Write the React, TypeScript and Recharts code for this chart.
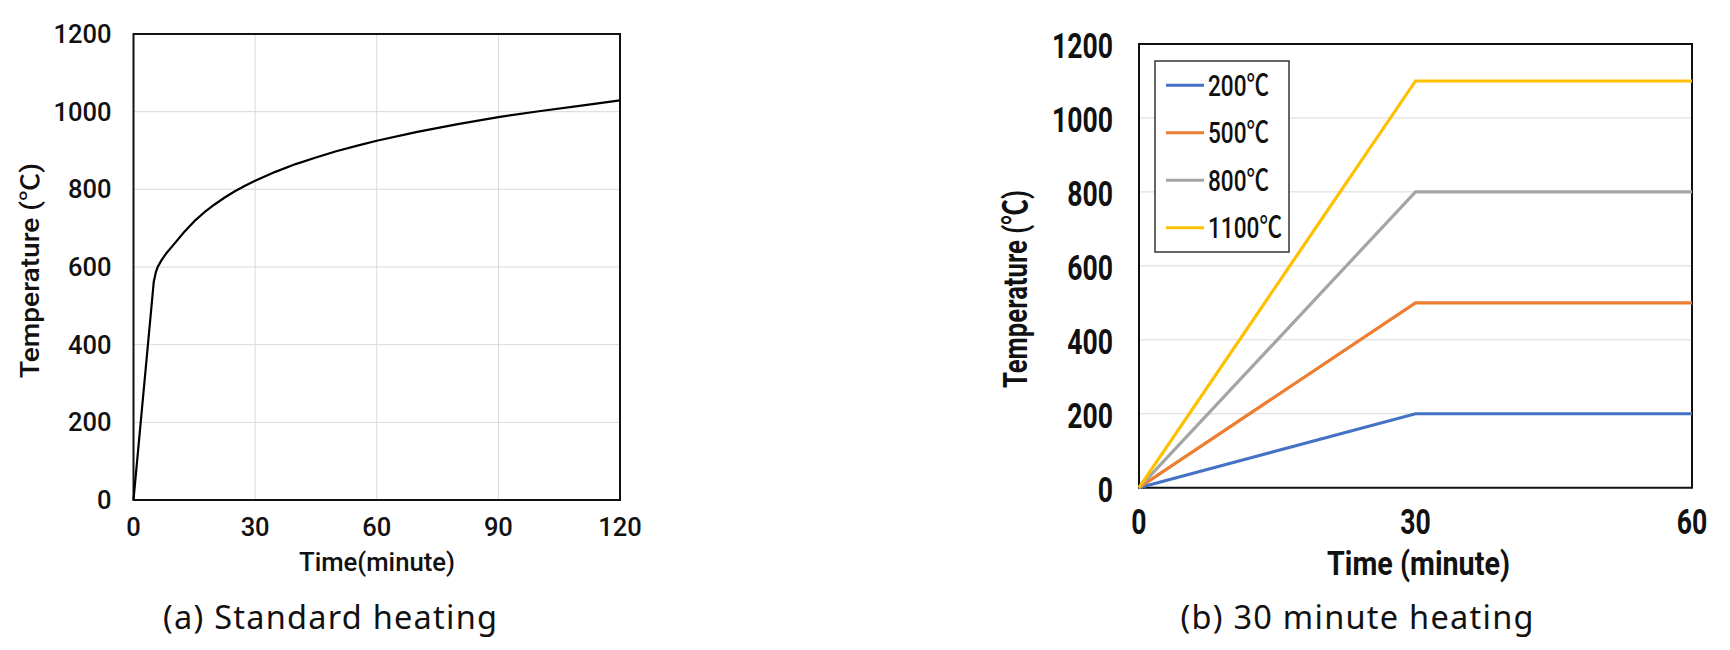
import React from 'react';
import { LineChart, Line, XAxis, YAxis, CartesianGrid, ReferenceArea, Legend } from 'recharts';

// ---- (a) Standard heating ----
const stdTime = [0, 5, 5.5, 6, 7, 8, 10, 12.5, 15, 17.5, 20, 22.5, 25, 27.5, 30, 35, 40, 45, 50, 55, 60, 70, 80, 90, 100, 110, 120];
const stdTemp = [0, 562, 586, 601, 619, 634, 659, 690, 718, 741, 761, 779, 795, 809, 822, 845, 865, 882, 898, 912, 925, 948, 968, 986, 1001, 1015, 1029];
const stdXTicks = [0, 30, 60, 90, 120];
const tempTicks = [0, 200, 400, 600, 800, 1000, 1200];

// ---- (b) 30 minute heating ----
const rampTime = [0, 30, 60];
const ramp200 = [0, 200, 200];
const ramp500 = [0, 500, 500];
const ramp800 = [0, 800, 800];
const ramp1100 = [0, 1100, 1100];
const rampKeys = ['s200', 's500', 's800', 's1100'];
const rampNames = ['200℃', '500℃', '800℃', '1100℃'];
const rampColors = ['#4472C4', '#ED7D31', '#A5A5A5', '#FFC000'];
const rampXTicks = [0, 30, 60];

const stdData = stdTime.map((t, i) => ({ t, temp: stdTemp[i] }));
const rampValues = [ramp200, ramp500, ramp800, ramp1100];
const rampData = rampTime.map((t, i) => {
  const row: any = { t };
  rampKeys.forEach((k, j) => (row[k] = rampValues[j][i]));
  return row;
});

const FONT = "Roboto, 'Noto Sans CJK KR', 'DejaVu Sans', sans-serif";
const CAP_FONT = "'Noto Sans', 'Open Sans', sans-serif";

const LeftYTick = (props: any) => {
  const { x, y, payload } = props;
  return (
    <text x={x - 22} y={y + 9} textAnchor="end" fontFamily={FONT} fontSize={25.5} fontWeight={500} fill="#111">
      {payload.value}
    </text>
  );
};
const LeftXTick = (props: any) => {
  const { x, y, payload } = props;
  return (
    <text x={x} y={y + 36} textAnchor="middle" fontFamily={FONT} fontSize={25.5} fontWeight={500} fill="#111">
      {payload.value}
    </text>
  );
};
const RightYTick = (props: any) => {
  const { x, y, payload } = props;
  return (
    <text transform={`translate(${x - 26},${y + 14}) scale(0.76,1)`} textAnchor="end" fontFamily={FONT} fontSize={35} fontWeight={700} fill="#111">
      {payload.value}
    </text>
  );
};
const RightXTick = (props: any) => {
  const { x, y, payload } = props;
  return (
    <text transform={`translate(${x},${y + 46.5}) scale(0.76,1)`} textAnchor="middle" fontFamily={FONT} fontSize={35} fontWeight={700} fill="#111">
      {payload.value}
    </text>
  );
};

const RampLegend = () => {
  return (
    <svg width={136} height={194} style={{ display: 'block' }}>
      <rect x={1} y={1} width={134} height={191} fill="#fff" stroke="#333" strokeWidth={1.5} />
      {rampNames.map((name, i) => {
        const cy = 25.3 + i * 47.5;
        return (
          <g key={name}>
            <line x1={12} x2={50} y1={cy} y2={cy} stroke={rampColors[i]} strokeWidth={3} />
            <text transform={`translate(54,${cy + 10.3}) scale(0.78,1)`} fontFamily={FONT} fontSize={29} fontWeight={500} fill="#111">
              {name}
            </text>
          </g>
        );
      })}
    </svg>
  );
};

export default function App() {
  return (
    <div style={{ position: 'absolute', left: 0, top: 0, width: 1730, height: 650, background: '#fff', overflow: 'hidden' }}>
      <div style={{ position: 'absolute', left: 0, top: 0 }}>
        <LineChart width={660} height={650} data={stdData} margin={{ top: 34, right: 40, bottom: 120, left: 33.5 }}>
          <CartesianGrid stroke="#d9d9d9" strokeWidth={1} />
          <XAxis dataKey="t" type="number" domain={[0, 120]} ticks={stdXTicks} interval={0} height={30}
            axisLine={false} tickLine={false} tickSize={0} tickMargin={0} tick={LeftXTick} />
          <YAxis type="number" domain={[0, 1200]} ticks={tempTicks} interval={0} width={100}
            axisLine={false} tickLine={false} tickSize={0} tickMargin={0} tick={LeftYTick} />
          <ReferenceArea x1={0} x2={120} y1={0} y2={1200} fill="none" fillOpacity={0} stroke="#111" strokeWidth={2} />
          <Line type="linear" dataKey="temp" stroke="#000" strokeWidth={2.2} strokeLinejoin="round" dot={false} isAnimationActive={false} />
        </LineChart>
      </div>
      <div style={{ position: 'absolute', left: 980, top: 0 }}>
        <LineChart width={750} height={650} data={rampData} margin={{ top: 44, right: 38, bottom: 132.3, left: 59 }}>
          <CartesianGrid stroke="#d9d9d9" strokeWidth={1} vertical={false} />
          <XAxis dataKey="t" type="number" domain={[0, 60]} ticks={rampXTicks} interval={0} height={30}
            axisLine={false} tickLine={false} tickSize={0} tickMargin={0} tick={RightXTick} />
          <YAxis type="number" domain={[0, 1200]} ticks={tempTicks} interval={0} width={100}
            axisLine={false} tickLine={false} tickSize={0} tickMargin={0} tick={RightYTick} />
          <ReferenceArea x1={0} x2={60} y1={0} y2={1200} fill="none" fillOpacity={0} stroke="#111" strokeWidth={2} />
          {rampKeys.map((k, i) => (
            <Line key={k} type="linear" dataKey={k} name={rampNames[i]} stroke={rampColors[i]} strokeWidth={3.2}
              dot={false} isAnimationActive={false} />
          ))}
          <Legend layout="horizontal" verticalAlign="middle" align="center" content={RampLegend}
            wrapperStyle={{ left: 174, top: 60, width: 136, height: 194 }} />
        </LineChart>
      </div>
      <svg width={1730} height={650} style={{ position: 'absolute', left: 0, top: 0, pointerEvents: 'none' }}>
        {/* (a) titles */}
        <text x={377} y={571} textAnchor="middle" fontFamily={FONT} fontSize={25} fontWeight={500} fill="#111"
          textLength={156} lengthAdjust="spacingAndGlyphs">Time(minute)</text>
        <text transform="translate(38.5,270.5) rotate(-90)" textAnchor="middle" fontFamily={FONT} fontSize={25} fontWeight={500}
          fill="#111" textLength={215} lengthAdjust="spacingAndGlyphs">Temperature (℃)</text>
        <text x={330} y={629} textAnchor="middle" fontFamily={CAP_FONT} fontSize={32.5} fill="#111"
          textLength={334} lengthAdjust="spacing">(a) Standard heating</text>
        {/* (b) titles */}
        <text x={1418.5} y={575} textAnchor="middle" fontFamily={FONT} fontSize={33} fontWeight={700} fill="#111"
          textLength={183} lengthAdjust="spacingAndGlyphs">Time (minute)</text>
        <text transform="translate(1027,289) rotate(-90)" textAnchor="middle" fontFamily={FONT} fontSize={33} fontWeight={700}
          fill="#111" textLength={198} lengthAdjust="spacingAndGlyphs">Temperature (℃)</text>
        <text x={1357} y={629} textAnchor="middle" fontFamily={CAP_FONT} fontSize={32.5} fill="#111"
          textLength={353} lengthAdjust="spacing">(b) 30 minute heating</text>
      </svg>
    </div>
  );
}
